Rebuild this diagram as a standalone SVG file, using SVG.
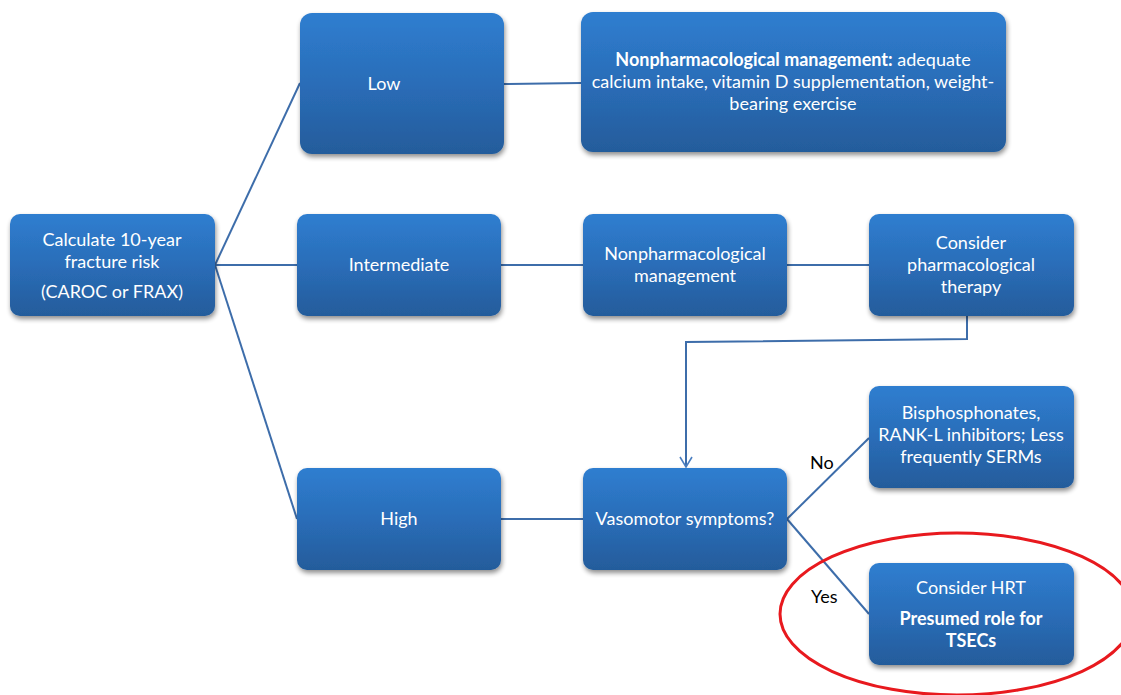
<svg xmlns="http://www.w3.org/2000/svg" width="1121" height="695" viewBox="0 0 1121 695">
<defs>
<linearGradient id="g" x1="0" y1="0" x2="0" y2="1">
<stop offset="0" stop-color="#2F7ED0"/>
<stop offset="0.5" stop-color="#2A6DB8"/>
<stop offset="1" stop-color="#245C9B"/>
</linearGradient>
<filter id="sh" x="-10%" y="-10%" width="125%" height="130%">
<feGaussianBlur in="SourceAlpha" stdDeviation="2.5"/>
<feOffset dx="1" dy="3" result="b"/>
<feComponentTransfer><feFuncA type="linear" slope="0.45"/></feComponentTransfer>
<feMerge><feMergeNode/><feMergeNode in="SourceGraphic"/></feMerge>
</filter>
<marker id="arr" markerWidth="14" markerHeight="14" refX="12" refY="7" orient="auto" markerUnits="userSpaceOnUse" viewBox="0 0 14 14">
<path d="M2,1 L12,7 L2,13" fill="none" stroke="#4A7EC0" stroke-width="1.6"/>
</marker>
</defs>
<style>
.box{fill:url(#g);filter:url(#sh);}
.t{font-family:Lato,"Open Sans","Liberation Sans",sans-serif;font-size:18px;fill:#FFFFFF;text-anchor:middle;}
.b{font-weight:bold;}
.c{stroke:#3D6DAA;stroke-width:2;fill:none;}
.lbl{font-family:Lato,"Open Sans","Liberation Sans",sans-serif;font-size:18px;fill:#000000;}
</style>
<rect width="1121" height="695" fill="#FFFFFF"/>
<g id="connectors">
<line class="c" x1="215" y1="265" x2="300" y2="83"/>
<line class="c" x1="215" y1="265" x2="297" y2="265"/>
<line class="c" x1="215" y1="265" x2="297" y2="519"/>
<line class="c" x1="504" y1="84" x2="581" y2="83"/>
<line class="c" x1="501" y1="265" x2="583" y2="265"/>
<line class="c" x1="787" y1="265" x2="869" y2="265"/>
<polyline class="c" stroke="#4A7EC0" points="967,316 967,339 686,342 686,467" marker-end="url(#arr)"/>
<line class="c" x1="501" y1="519" x2="583" y2="519"/>
<line class="c" x1="787" y1="519" x2="869" y2="438"/>
<line class="c" x1="787" y1="519" x2="869" y2="614"/>
<text class="lbl" x="810" y="469">No</text>
<text class="lbl" x="811" y="603">Yes</text>
</g>
<g id="calc">
<rect class="box" x="10" y="214" width="205" height="102" rx="10"/>
<text class="t" x="112" y="246">Calculate 10-year</text>
<text class="t" x="112" y="268">fracture risk</text>
<text class="t" x="112" y="298">(CAROC or FRAX)</text>
</g>
<g id="low">
<rect class="box" x="300" y="13" width="204" height="141" rx="12"/>
<text class="t" x="384" y="90">Low</text>
</g>
<g id="nonpharm-full">
<rect class="box" x="581" y="12" width="425" height="140" rx="12"/>
<text class="t" x="793" y="66"><tspan class="b">Nonpharmacological management:</tspan> adequate</text>
<text class="t" x="793" y="88">calcium intake, vitamin D supplementation, weight-</text>
<text class="t" x="793" y="110">bearing exercise</text>
</g>
<g id="intermediate">
<rect class="box" x="297" y="214" width="204" height="102" rx="10"/>
<text class="t" x="399" y="271">Intermediate</text>
</g>
<g id="nonpharm">
<rect class="box" x="583" y="214" width="204" height="102" rx="10"/>
<text class="t" x="685" y="260">Nonpharmacological</text>
<text class="t" x="685" y="282">management</text>
</g>
<g id="consider-pharm">
<rect class="box" x="869" y="214" width="205" height="102" rx="10"/>
<text class="t" x="971" y="249">Consider</text>
<text class="t" x="971" y="271">pharmacological</text>
<text class="t" x="971" y="293">therapy</text>
</g>
<g id="high">
<rect class="box" x="297" y="468" width="204" height="102" rx="10"/>
<text class="t" x="399" y="525">High</text>
</g>
<g id="vasomotor">
<rect class="box" x="583" y="468" width="204" height="102" rx="10"/>
<text class="t" x="685" y="525">Vasomotor symptoms?</text>
</g>
<g id="bisphosphonates">
<rect class="box" x="869" y="386" width="205" height="102" rx="10"/>
<text class="t" x="971" y="419">Bisphosphonates,</text>
<text class="t" x="971" y="441">RANK-L inhibitors; Less</text>
<text class="t" x="971" y="463">frequently SERMs</text>
</g>
<g id="hrt">
<rect class="box" x="869" y="563" width="205" height="102" rx="10"/>
<text class="t" x="971" y="594">Consider HRT</text>
<text class="t b" x="971" y="625">Presumed role for</text>
<text class="t b" x="971" y="647">TSECs</text>
</g>
<g id="highlight">
<ellipse cx="957" cy="614" rx="177" ry="81" fill="none" stroke="#E8191E" stroke-width="3"/>
</g>
</svg>
